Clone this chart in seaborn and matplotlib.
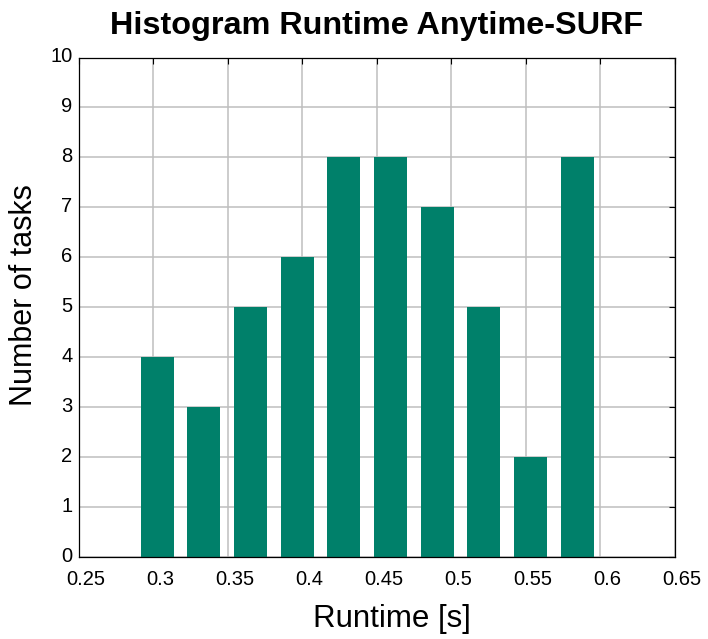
import matplotlib
matplotlib.use("Agg")
import matplotlib.pyplot as plt
import matplotlib.transforms as mtransforms
import numpy as np
import seaborn as sns

# Histogram of task runtimes (bin centres in seconds, task counts per bin)
bin_centers = [0.3027, 0.3340, 0.3653, 0.3966, 0.4279, 0.4593, 0.4906, 0.5219, 0.5532, 0.5846]
task_counts = [4, 3, 5, 6, 8, 8, 7, 5, 2, 8]

x_ticks = [0.25, 0.3, 0.35, 0.4, 0.45, 0.5, 0.55, 0.6, 0.65]
x_tick_labels = ["0.25", "0.3", "0.35", "0.4", "0.45", "0.5", "0.55", "0.6", "0.65"]
y_ticks = list(range(0, 11))

title_text = "Histogram Runtime Anytime-SURF"
x_label = "Runtime [s]"
y_label = "Number of tasks"

sns.set_style("white")
plt.rcParams["font.family"] = ["Liberation Sans", "DejaVu Sans"]
plt.rcParams["text.color"] = "black"
plt.rcParams["axes.labelcolor"] = "black"

fig = plt.figure(figsize=(7.08, 6.39), dpi=100)
ax = fig.add_axes([0.1109, 0.1283, 0.9534 - 0.1109, 0.91 - 0.1283])

sns.barplot(x=bin_centers, y=task_counts, native_scale=True, width=0.707,
            color="#00806A", saturation=1, errorbar=None, linewidth=0,
            ax=ax, zorder=2)

ax.set_xlim(0.25, 0.65)
ax.set_ylim(0, 10)
ax.set_xticks(x_ticks)
ax.set_xticklabels(x_tick_labels)
ax.set_yticks(y_ticks)

ax.grid(True, color="#BEBEBE", linewidth=1.1, zorder=0)
ax.set_axisbelow(True)

for side in ["left", "right", "top", "bottom"]:
    ax.spines[side].set_visible(True)
    ax.spines[side].set_color("black")
    ax.spines[side].set_linewidth(0.9)
    ax.spines[side].set_zorder(3)

ax.tick_params(axis="both", which="major", direction="in", length=4.3, width=0.8,
               color="black", top=True, right=True, labelsize=14.5, labelcolor="black")
ax.tick_params(axis="x", pad=9.0)
ax.tick_params(axis="y", pad=4.5)

dx = mtransforms.ScaledTranslation(0.07, 0, fig.dpi_scale_trans)
for lbl in ax.get_xticklabels():
    lbl.set_transform(lbl.get_transform() + dx)
dy = mtransforms.ScaledTranslation(0, 0.03, fig.dpi_scale_trans)
for lbl in ax.get_yticklabels():
    lbl.set_transform(lbl.get_transform() + dy)

ax.set_title(title_text, fontsize=23.3, fontweight="bold", pad=16.6, color="black")
ax.set_xlabel(x_label, fontsize=22.5, color="black")
ax.set_ylabel(y_label, fontsize=22, color="black")
ax.xaxis.set_label_coords(0.5256, -0.094)
ax.yaxis.set_label_coords(-0.066, 0.5245)

fig.savefig("out.png", dpi=100)
